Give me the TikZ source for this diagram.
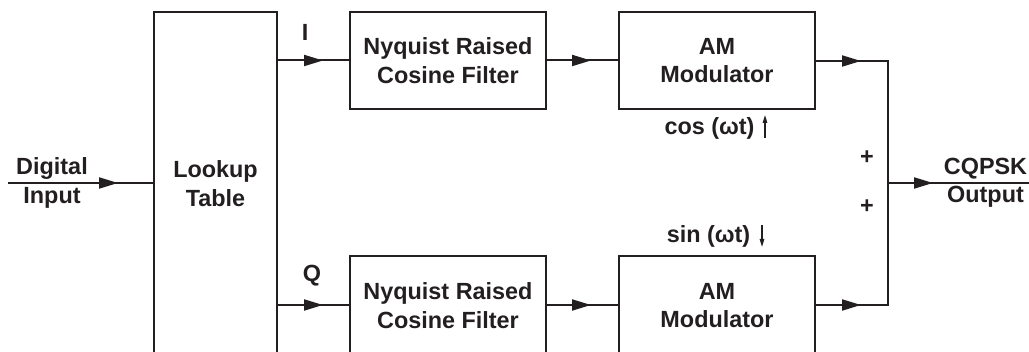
\documentclass[tikz,border=0pt]{standalone}
\usepackage{fontspec}
\setmainfont{Liberation Sans}
\usetikzlibrary{arrows.meta}
\definecolor{ink}{RGB}{35,31,32}
\begin{document}
\begin{tikzpicture}[x=1pt,y=-1pt, color=ink,
  txt/.style={font=\fontsize{23.4}{28.5}\selectfont\bfseries, align=center, inner sep=0pt, text=ink},
  box/.style={draw=ink, line width=2pt, txt},
  wire/.style={draw=ink, line width=2pt},
  tip/.style={draw=ink, fill=ink, line width=2pt, -{Triangle[length=19pt,width=11pt]}},
  smalltip/.style={draw=ink, line width=1.3pt, -{Triangle[length=8pt,width=4.5pt]}}]
\useasboundingbox (0,0) rectangle (1029,352);
\clip (0,0) rectangle (1029,352);
% blocks
\node[box, minimum width=123pt, minimum height=343pt] (lut) at (215.5,183.5) {Lookup\\Table};
\node[box, minimum width=196pt, minimum height=97pt] (nyq1) at (448,60.5) {Nyquist Raised\\Cosine Filter};
\node[box, minimum width=196pt, minimum height=97pt] (am1) at (717,60.5) {AM\\Modulator};
\node[box, minimum width=196pt, minimum height=99pt] (nyq2) at (448,305.5) {Nyquist Raised\\Cosine Filter};
\node[box, minimum width=196pt, minimum height=99pt] (am2) at (717,305.5) {AM\\Modulator};
% coordinates
\coordinate (din) at (8,183);
\coordinate (s1) at (888,61);
\coordinate (s2) at (888,305);
\coordinate (sm) at (888,183);
\coordinate (dout) at (1031,183);
\coordinate (cosb) at (765,138);
\coordinate (cost) at (765,115);
\coordinate (sinb) at (762,225);
\coordinate (sint) at (762,247);
% labels
\node[txt] (dinl) at (52,183) {Digital\\Input};
\node[txt] (outl) at (985.5,183) {CQPSK\\Output};
\node[txt] (il) at (305,32) {I};
\node[txt] (ql) at (312,276) {Q};
\node[txt, anchor=base] (cosl) at (709.5,135) {cos (ωt)};
\node[txt, anchor=base] (sinl) at (708.5,243) {sin (ωt)};
\node[txt] (p1) at (867,158) {+};
\node[txt] (p2) at (867,207) {+};
% connectors
\draw[wire] (din) -- (lut.west |- din);
\draw[tip] (din) -- (118,183);
\draw[wire] (lut.east |- nyq1.west) -- (nyq1.west);
\draw[tip] (lut.east |- nyq1.west) -- ++(45,0);
\draw[wire] (lut.east |- s2) -- (nyq2.west |- s2);
\draw[tip] (lut.east |- s2) -- ++(45,0);
\draw[wire] (nyq1.east) -- (am1.west);
\draw[tip] (nyq1.east) -- ++(44,0);
\draw[wire] (nyq2.east |- s2) -- (am2.west |- s2);
\draw[tip] (nyq2.east |- s2) -- ++(44,0);
\draw[wire] (am1.east |- s1) -- (s1) -- (s2) -- (am2.east |- s2);
\draw[tip] (am1.east |- s1) -- ++(45,0);
\draw[tip] (am2.east |- s2) -- ++(45,0);
\draw[wire] (sm) -- (dout);
\draw[tip] (sm) -- ++(45,0);
\draw[smalltip] (cosb) -- (cost);
\draw[smalltip] (sinb) -- (sint);
\end{tikzpicture}
\end{document}
